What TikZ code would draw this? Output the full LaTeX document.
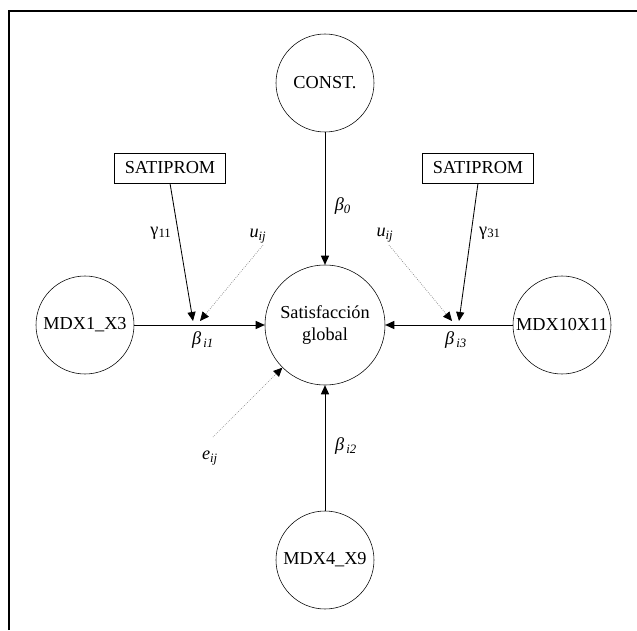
\documentclass[tikz,border=0pt]{standalone}
\usepackage{fontspec}
\setmainfont{Liberation Serif}
\usetikzlibrary{arrows.meta}

\tikzstyle{latent} = [draw, circle, thin, inner sep=0pt, minimum size=2.45cm, font=\fontsize{13}{15.5}\selectfont]
\tikzstyle{outcome} = [latent, minimum size=3cm, align=center]
\tikzstyle{obsbox} = [draw, rectangle, thin, minimum width=2.775cm, minimum height=0.75cm, inner sep=0pt, font=\fontsize{13}{15.5}\selectfont]
\tikzstyle{coef} = [inner sep=1pt, font=\fontsize{13}{15.5}\selectfont]
\tikzstyle{path} = [-{Triangle[length=6.4pt, width=5.8pt]}, line width=0.6pt]
\tikzstyle{errpath} = [-{Triangle[length=6.4pt, width=5.8pt, color=black]}, draw=gray, line width=0.5pt, densely dotted]

\begin{document}
\begin{tikzpicture}
	\useasboundingbox (-8.125,-7.625) rectangle (7.8,8.125);
	\draw[line width=1.5pt] (-7.9,-7.625) -- (-7.9,7.85) -- (7.8,7.85);

	\node [outcome] (sat) at (0,0) {Satisfacción\\global};
	\node [latent] (const) at (0,6.05) {CONST.};
	\node [latent] (mdx1) at (-6,0) {MDX1\_X3};
	\node [latent] (mdx10) at (5.925,0) {MDX10X11};
	\node [latent] (mdx4) at (0,-5.875) {MDX4\_X9};
	\node [obsbox] (sati1) at (-3.875,3.925) {SATIPROM};
	\node [obsbox] (sati3) at (3.825,3.925) {SATIPROM};

	\coordinate (g1tip) at (-3.3,0.1);
	\coordinate (u1tip) at (-3.125,0.1);
	\coordinate (g3tip) at (3.35,0.1);
	\coordinate (u3tip) at (3.175,0.1);
	\coordinate (u1s) at (-1.55,2.0);
	\coordinate (u3s) at (1.6,2.0);
	\coordinate (es) at (-2.8,-2.8);

	\node [coef] (g11) at (-4.1,2.3) {γ\textsubscript{11}};
	\node [coef] (u1) at (-1.675,2.225) {\textit{u}\textsubscript{\textit{ij}}};
	\node [coef] (u3) at (1.5,2.25) {\textit{u}\textsubscript{\textit{ij}}};
	\node [coef] (g31) at (4.125,2.3) {γ\textsubscript{31}};
	\node [coef] (b0) at (0.45,2.975) {\textit{β}\textsubscript{\textit{0}}};
	\node [coef] (bi1) at (-3.05,-0.375) {\textit{β}\textsubscript{\,\textit{i1}}};
	\node [coef] (bi3) at (3.275,-0.375) {\textit{β}\textsubscript{\,\textit{i3}}};
	\node [coef] (bi2) at (0.525,-3.025) {\textit{β}\textsubscript{\,\textit{i2}}};
	\node [coef] (eij) at (-2.875,-3.325) {\textit{e}\textsubscript{\textit{ij}}};

	\draw [path] (const) -- (sat);
	\draw [path] (mdx1) -- (sat);
	\draw [path] (mdx10) -- (sat);
	\draw [path] (mdx4) -- (sat);
	\draw [path] (sati1.south) -- (g1tip);
	\draw [path] (sati3.south) -- (g3tip);
	\draw [errpath] (u1s) -- (u1tip);
	\draw [errpath] (u3s) -- (u3tip);
	\draw [errpath] (es) -- (sat.225);
\end{tikzpicture}
\end{document}
